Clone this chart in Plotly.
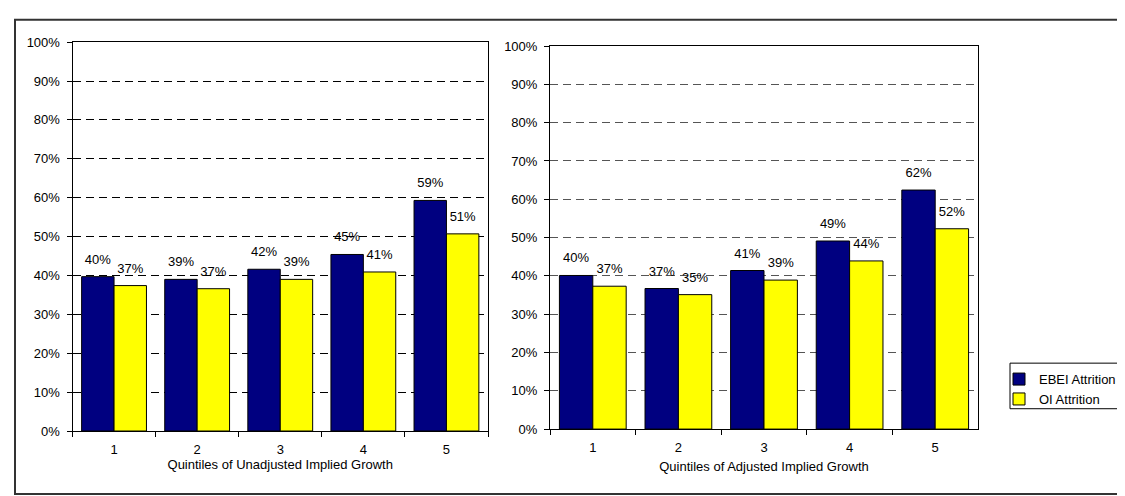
import plotly.graph_objects as go

# quintiles and attrition rates
quintiles = ["1", "2", "3", "4", "5"]
ebei_unadj = [0.397, 0.390, 0.416, 0.454, 0.593]
oi_unadj = [0.374, 0.366, 0.390, 0.409, 0.507]
ebei_adj = [0.401, 0.367, 0.414, 0.491, 0.624]
oi_adj = [0.373, 0.351, 0.389, 0.439, 0.523]

W, H = 1125, 496
FONT = "Liberation Sans, Arial, sans-serif"
NAVY = "#000080"
YELLOW = "#FFFF00"


def px_x(v):
    return v / W


def px_y(v):
    return 1 - v / H


fig = go.Figure()

series = [
    (ebei_unadj, "EBEI Attrition", NAVY, "e", "x", "y", True),
    (oi_unadj, "OI Attrition", YELLOW, "o", "x", "y", True),
    (ebei_adj, "EBEI Attrition", NAVY, "e", "x2", "y2", False),
    (oi_adj, "OI Attrition", YELLOW, "o", "x2", "y2", False),
]

for vals, name, color, grp, xa, ya, show in series:
    fig.add_trace(go.Bar(x=quintiles, y=vals, name=name, marker_color=color,
                         marker_line_color="black", marker_line_width=1,
                         offsetgroup=grp, legendgroup=grp, showlegend=show,
                         xaxis=xa, yaxis=ya))
    # value labels a little above the bar tops, as in Excel
    # (invisible marker just pushes the text up)
    fig.add_trace(go.Scatter(x=quintiles, y=vals, mode="markers+text",
                             texttemplate="%{y:.0%}", textposition="top center",
                             marker=dict(size=14, color="rgba(0,0,0,0)"),
                             offsetgroup=grp,
                             textfont=dict(family=FONT, size=13, color="black"),
                             cliponaxis=False, showlegend=False, hoverinfo="skip",
                             xaxis=xa, yaxis=ya))


def xax(domain, anchor, title, standoff):
    return dict(domain=domain, anchor=anchor, type="category",
                showline=True, linecolor="black", linewidth=1, mirror=True,
                ticks="outside", tickson="boundaries", ticklen=5, tickcolor="black",
                ticklabelstandoff=6, showgrid=False,
                tickfont=dict(family=FONT, size=13, color="black"),
                title=dict(text=title, font=dict(family=FONT, size=13, color="black"),
                           standoff=standoff))


def yax(domain, anchor, gridcolor):
    return dict(domain=domain, anchor=anchor, range=[0, 1], dtick=0.1,
                tickformat=".0%", showline=True, linecolor="black", linewidth=1,
                mirror=True, ticks="outside", ticklen=5, tickcolor="black",
                ticklabelstandoff=4, showgrid=True, gridcolor=gridcolor,
                griddash="8px,5px", gridwidth=1, zeroline=False,
                tickfont=dict(family=FONT, size=13, color="black"))


fig.update_layout(
    width=W, height=H,
    margin=dict(l=0, r=0, t=0, b=0),
    paper_bgcolor="white", plot_bgcolor="white",
    barmode="group", bargap=0.22, bargroupgap=0,
    scattermode="group", scattergap=0.22,
    xaxis=xax([px_x(64.5), px_x(480)], "y", "Quintiles of Unadjusted Implied Growth", 2),
    yaxis=yax([px_y(429), px_y(28)], "x", "black"),
    xaxis2=xax([px_x(542), px_x(970)], "y2", "Quintiles of Adjusted Implied Growth", 8),
    yaxis2=yax([px_y(427), px_y(32)], "x2", "#555555"),
    legend=dict(x=px_x(991), y=px_y(360), xanchor="left", yanchor="top",
                borderwidth=0, bgcolor="rgba(0,0,0,0)",
                font=dict(family=FONT, size=13, color="black"),
                itemwidth=30, tracegroupgap=0),
    showlegend=True,
    shapes=[
        # outer chart border
        dict(type="rect", xref="paper", yref="paper",
             x0=px_x(7), x1=px_x(1132), y0=px_y(494), y1=px_y(5),
             line=dict(color="#333333", width=2)),
        # legend box
        dict(type="rect", xref="paper", yref="paper",
             x0=px_x(1002), x1=px_x(1140), y0=px_y(406), y1=px_y(359),
             line=dict(color="black", width=1), fillcolor="white", layer="below"),
    ],
)

fig.write_html("out.html")
